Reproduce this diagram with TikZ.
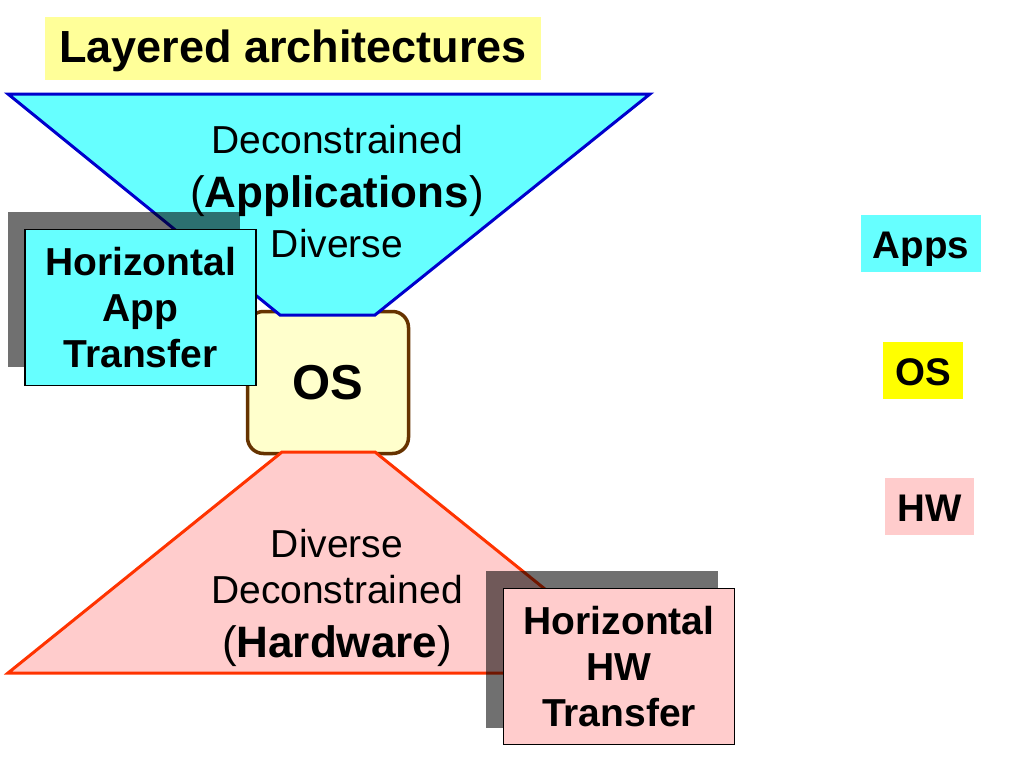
\documentclass[tikz,border=0pt]{standalone}
\usepackage{fontspec}
\setmainfont{Liberation Sans}
\begin{document}
\begin{tikzpicture}[
    x=1pt, y=-1pt,
    txt/.style={font=\fontsize{39}{46}\selectfont, inner sep=0pt, anchor=base},
    hbox/.style={draw=black, line width=1.5pt, inner sep=0pt, minimum width=231pt, minimum height=156pt, align=center, font=\fontsize{39}{46}\selectfont\bfseries},
    key/.style={inner xsep=12pt, inner ysep=0pt, text height=43pt, text depth=14pt, font=\fontsize{38.5}{46}\selectfont\bfseries}
]

% Colours of the three layers
\definecolor{appcyan}{RGB}{102, 255, 255}  % applications
\definecolor{appblue}{RGB}{0, 0, 204}
\definecolor{hwpink}{RGB}{255, 204, 204}   % hardware
\definecolor{hwred}{RGB}{255, 51, 0}
\definecolor{oscream}{RGB}{255, 255, 204}  % operating system
\definecolor{osbrown}{RGB}{102, 51, 0}
\definecolor{osyellow}{RGB}{255, 255, 0}
\definecolor{titleyellow}{RGB}{255, 255, 153}

\useasboundingbox (0, 0) rectangle (1024, 768);

% Title
\node[fill=titleyellow, inner sep=0pt, minimum width=496pt, text height=46pt, text depth=17pt, font=\fontsize{45}{50}\selectfont\bfseries] (title) at (293, 48.5) {Layered architectures};

% OS in the waist
\node[draw=osbrown, fill=oscream, line width=3.5pt, rounded corners=16pt, minimum width=161pt, minimum height=142pt, font=\fontsize{49}{52}\selectfont\bfseries] (os) at (328, 382.5) {OS};

% Applications funnel (top) and hardware funnel (bottom)
\filldraw[fill=appcyan, draw=appblue, line width=3pt] (8, 94) -- (650, 94) -- (375, 315) -- (280, 315) -- cycle;
\filldraw[fill=hwpink, draw=hwred, line width=3pt] (282, 452) -- (375, 452) -- (649, 673) -- (8, 673) -- cycle;

\node[txt] (appdecon) at (337, 153) {Deconstrained};
\node[txt, font=\fontsize{44}{50}\selectfont] (appname) at (337, 207) {(\textbf{Applications})};
\node[txt] (appdiv) at (337, 257) {Diverse};

\node[txt] (hwdiv) at (337, 557) {Diverse};
\node[txt] (hwdecon) at (337, 603) {Deconstrained};
\node[txt, font=\fontsize{44}{50}\selectfont] (hwname) at (337, 657) {(\textbf{Hardware})};

% Shadows behind the transfer boxes
\fill[black, opacity=0.56] (8, 212) rectangle (240, 367);
\fill[black, opacity=0.56] (486, 571) rectangle (718, 728);

% Horizontal transfer boxes
\node[hbox, fill=appcyan] (appxfer) at (140.5, 307.5) {Horizontal\\App\\Transfer};
\node[hbox, fill=hwpink] (hwxfer) at (619, 666.5) {Horizontal\\HW\\Transfer};

% Key
\node[key, fill=appcyan] (keyapps) at (921, 243.5) {Apps};
\node[key, fill=osyellow] (keyos) at (923, 370.5) {OS};
\node[key, fill=hwpink] (keyhw) at (929.5, 506.5) {HW};

\end{tikzpicture}
\end{document}
